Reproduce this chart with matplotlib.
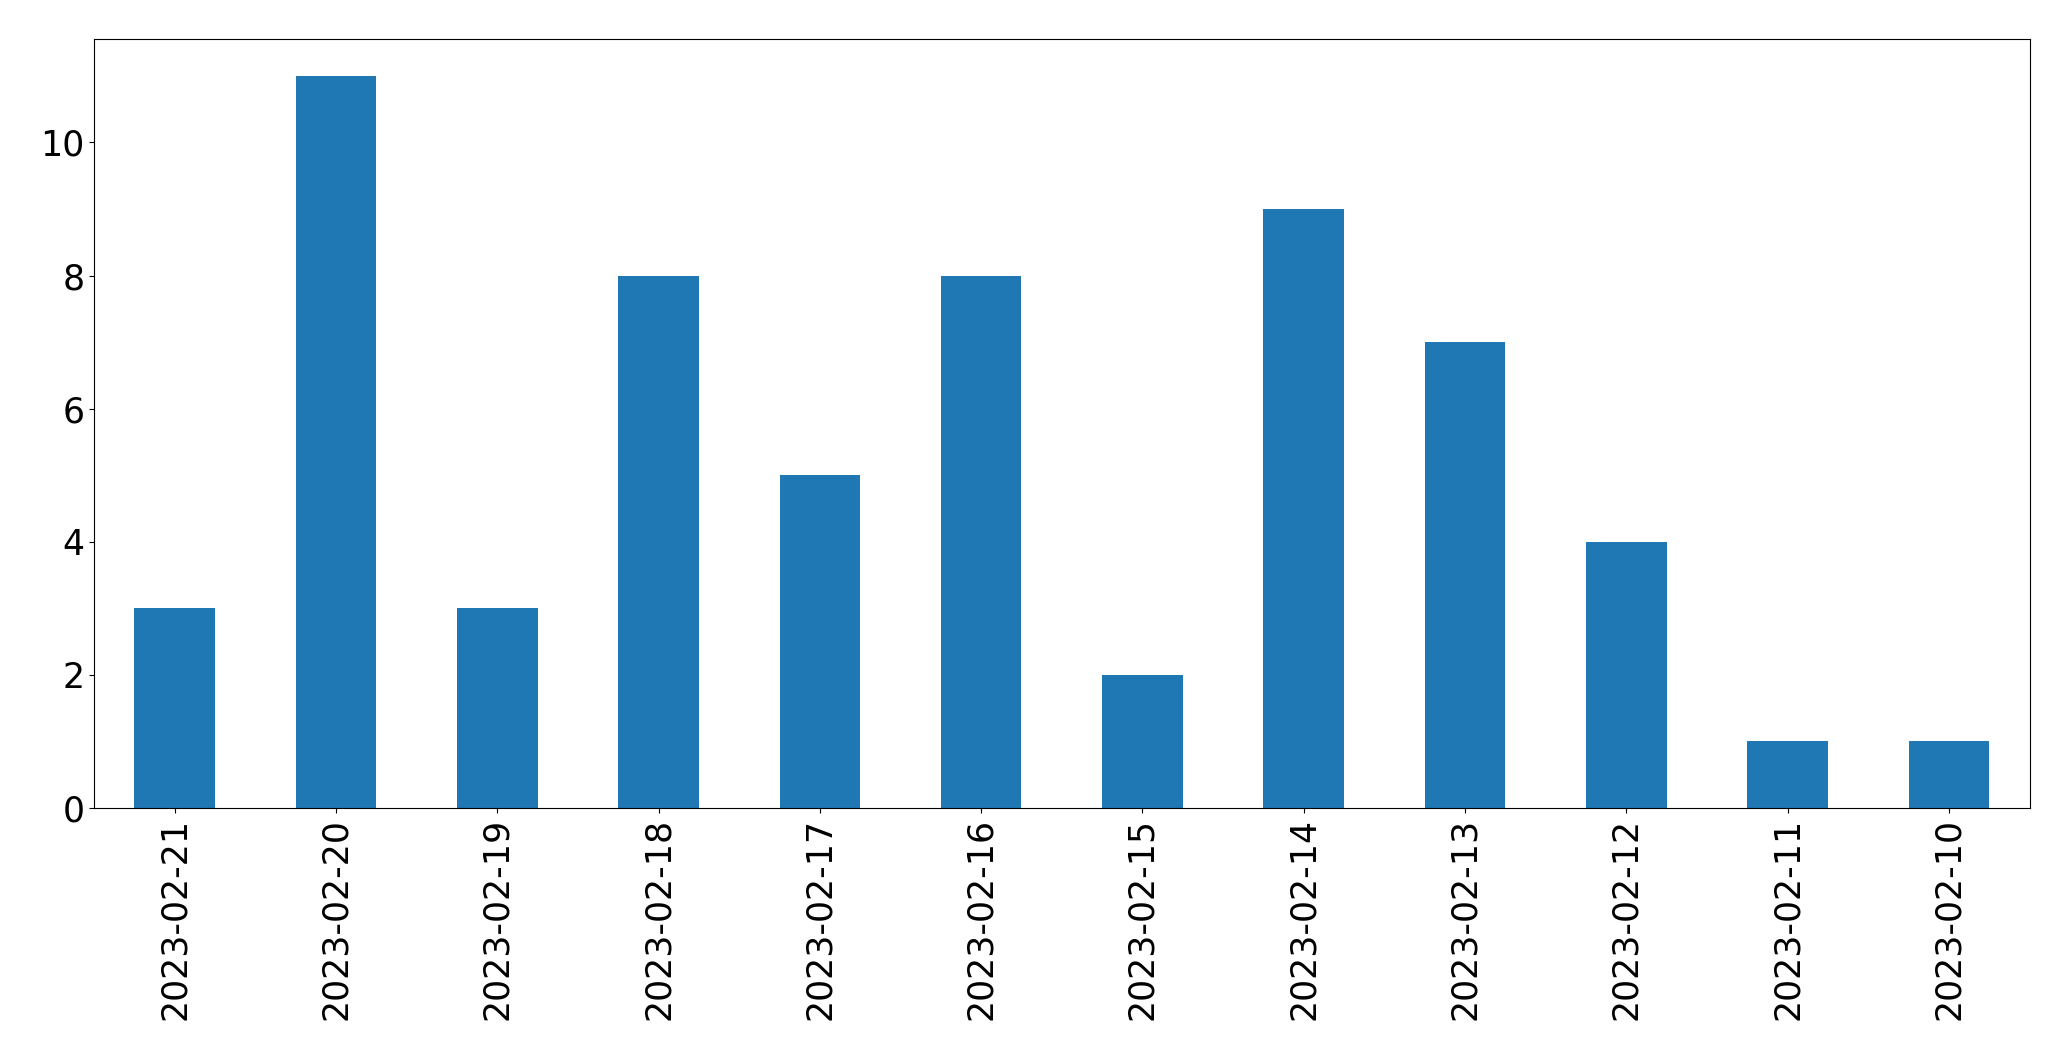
import matplotlib
matplotlib.use('Agg')
import matplotlib.pyplot as plt
import pandas as pd

dates = ['2023-02-21', '2023-02-20', '2023-02-19', '2023-02-18', '2023-02-17', '2023-02-16',
         '2023-02-15', '2023-02-14', '2023-02-13', '2023-02-12', '2023-02-11', '2023-02-10']
counts = [3, 11, 3, 8, 5, 8, 2, 9, 7, 4, 1, 1]

s = pd.Series(counts, index=dates)

fig = plt.figure(figsize=(20.71, 10.61), dpi=100)
ax = fig.add_axes([0.0454, 0.2385, 0.9346, 0.7245])
s.plot(kind='bar', ax=ax, color='#1f77b4')
ax.tick_params(axis='both', labelsize=25)

fig.savefig('out.png', dpi=100)
